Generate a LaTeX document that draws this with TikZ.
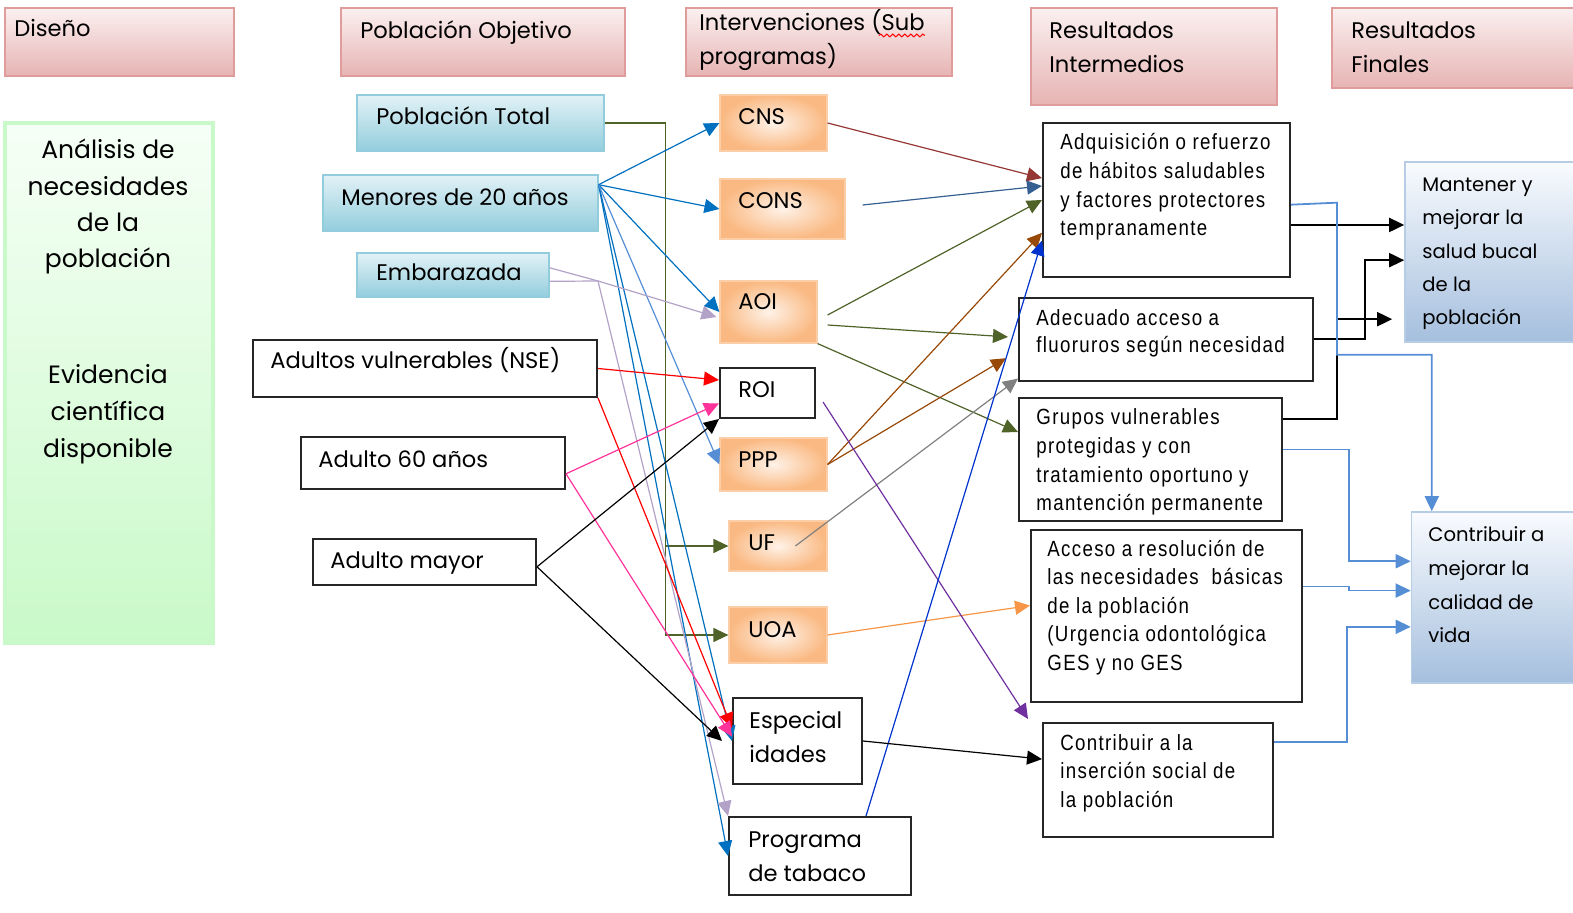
\documentclass[tikz,border=0pt]{standalone}
\usepackage{fontspec}
\setmainfont{Poppins}
\newfontfamily\narrowfont{Liberation Sans}[FakeStretch=0.85,LetterSpace=6]
\usetikzlibrary{arrows.meta,calc,positioning,decorations.pathmorphing}

\definecolor{hdrT}{HTML}{FBF0F0}
\definecolor{hdrF}{HTML}{E6B4B3}
\definecolor{hdrB}{HTML}{E09C9B}
\definecolor{popT}{HTML}{E2F2F6}
\definecolor{popF}{HTML}{93CDDD}
\definecolor{orgT}{HTML}{FEF2E8}
\definecolor{orgF}{HTML}{FAB982}
\definecolor{grnT}{HTML}{F6FFF6}
\definecolor{grnF}{HTML}{C9F9C9}
\definecolor{finT}{HTML}{F9FBFE}
\definecolor{finF}{HTML}{A5BFDE}
\definecolor{blu}{HTML}{0070C0}
\definecolor{ltblu}{HTML}{558ED5}
\definecolor{lav}{HTML}{B3A2C7}
\definecolor{olv}{HTML}{4F6228}
\definecolor{dkred}{HTML}{953735}
\definecolor{steel}{HTML}{376092}
\definecolor{brn}{HTML}{984807}
\definecolor{orng}{HTML}{F79646}
\definecolor{purp}{HTML}{7030A0}
\definecolor{royal}{HTML}{0033CC}
\definecolor{pnk}{HTML}{FF3399}

\begin{document}
\begin{tikzpicture}[x=0.5pt,y=-0.5pt,>={Triangle[length=7.5pt,width=7pt]},
  hdr/.style={draw=hdrB,line width=0.6pt,top color=hdrT,bottom color=hdrF,inner sep=0pt},
  pop/.style={draw=popF,line width=0.6pt,top color=popT,bottom color=popF,inner sep=0pt},
  intv/.style={draw=orgF!70,line width=0.6pt,inner color=orgT,outer color=orgF,inner sep=0pt},
  wbox/.style={draw=black!85,line width=1pt,fill=white,inner sep=0pt},
  fin/.style={draw=finF!80,line width=0.8pt,top color=finT,bottom color=finF,inner sep=0pt},
  txt/.style={inner sep=0pt,anchor=base west,align=left,font=\fontsize{11.3}{17}\selectfont},
  ntxt/.style={inner sep=0pt,anchor=base west,align=left,font=\narrowfont\fontsize{11}{14.4}\selectfont},
  con/.style={->,line width=0.6pt},
  res/.style={->,line width=0.9pt,ltblu}]
\useasboundingbox (0,0) rectangle (1573,913);

% column headers
\node[hdr,minimum width=114.5pt,minimum height=34pt] (dis) at (119.5,42) {};
\node[hdr,minimum width=142pt,minimum height=34pt] (pob) at (483,42) {};
\node[hdr,minimum width=133pt,minimum height=34pt] (intv) at (819,42) {};
\node[hdr,minimum width=123pt,minimum height=48.5pt] (rint) at (1154,56.5) {};
\node[hdr,minimum width=125pt,minimum height=40pt] (rfin) at (1457,48) {};

\node[draw=grnF,line width=2pt,top color=grnT,bottom color=grnF,minimum width=104pt,minimum height=260pt] (grn) at (109,383) {};

% poblacion objetivo
\node[pop,minimum width=123.5pt,minimum height=28pt] (ptot) at (480.5,123) {};
\node[pop,minimum width=137.5pt,minimum height=28pt] (men) at (460.5,203) {};
\node[pop,minimum width=96pt,minimum height=22pt] (emb) at (453,275) {};
\node[wbox,minimum width=172pt,minimum height=28.5pt] (avul) at (425,368.5) {};
\node[wbox,minimum width=132pt,minimum height=26pt] (a60) at (433,463) {};
\node[wbox,minimum width=111.5pt,minimum height=23pt] (amay) at (424.5,562) {};

% intervenciones
\node[intv,minimum width=53.5pt,minimum height=28pt] (cns) at (773.5,123) {};
\node[intv,minimum width=62.5pt,minimum height=30pt] (cons) at (782.5,209) {};
\node[intv,minimum width=48.5pt,minimum height=31pt] (aoi) at (768.5,312) {};
\node[wbox,minimum width=47.5pt,minimum height=25pt] (roi) at (767.5,393) {};
\node[intv,minimum width=53.5pt,minimum height=26.5pt] (ppp) at (773.5,464.5) {};
\node[intv,minimum width=49pt,minimum height=25pt] (uf) at (778,546) {};
\node[intv,minimum width=49pt,minimum height=28pt] (uoa) at (778,635) {};
\node[wbox,minimum width=64.5pt,minimum height=43pt] (esp) at (797.5,741) {};
\node[wbox,minimum width=91pt,minimum height=39pt] (tab) at (820,856) {};

% resultados
\node[wbox,minimum width=123.5pt,minimum height=77pt] (adq) at (1166.5,200) {};
\node[wbox,minimum width=147pt,minimum height=41.5pt] (flu) at (1166,339.5) {};
\node[wbox,minimum width=131.5pt,minimum height=61.5pt] (gru) at (1150.5,459.5) {};
\node[wbox,minimum width=135.5pt,minimum height=86pt] (acc) at (1166.5,616) {};
\node[wbox,minimum width=115pt,minimum height=57pt] (ins) at (1158,780) {};
\node[fin,minimum width=90pt,minimum height=90pt] (man) at (1495,252) {};
\node[fin,minimum width=87pt,minimum height=85.5pt] (cal) at (1498.5,597.5) {};

% poblacion -> intervenciones
\draw[con,olv] (ptot.east) -- ++(61,0) |- (uoa.west);
\draw[con,olv] (ptot.east) ++(61,0) |- (uf.west);

\coordinate (menS) at ($(men.north east)!0.18!(men.south east)$);
\path[con,blu] (menS) edge (cns.west) edge (cons.west) edge (aoi.west)
  edge (esp.west) edge (tab.west);
\draw[con,ltblu] (menS) -- (ppp.west);

\coordinate (embJ) at (598,281);
\draw[con,lav] ($(emb.north east)!0.34!(emb.south east)$) -- (embJ) -- ($(aoi.west)+(-3,5)$);
\draw[con,lav] ($(emb.north east)!0.64!(emb.south east)$) -- (embJ) -- (tab.north west);

\draw[con,red] (avul.east) -- ($(roi.north west)!0.25!(roi.south west)$);
\draw[con,red] (avul.south east) -- ($(esp.north west)!0.35!(esp.south west)$);
\coordinate (a60S) at ($(a60.north east)!0.7!(a60.south east)$);
\draw[con,pnk] (a60S) -- ($(roi.north west)!0.7!(roi.south west)$);
\draw[con,pnk] (a60S) -- ($(esp.north west)!0.45!(esp.south west)$);
\coordinate (amayS) at ($(amay.north east)!0.6!(amay.south east)$);
\draw[con,black] (amayS) -- (roi.south west);
\draw[con,black] (amayS) -- ($(esp.north west)!0.5!(esp.south west)+(-10,0)$);

% intervenciones -> resultados intermedios
\draw[con,dkred] (cns.east) -- ($(adq.north west)!0.36!(adq.south west)$);
\draw[con,steel] ($(cons.east)+(17,-4)$) -- ($(adq.north west)!0.41!(adq.south west)$);
\draw[con,olv] ($(aoi.east)+(10,3)$) -- ($(adq.north west)!0.5!(adq.south west)$);
\draw[con,olv] ($(aoi.east)+(10,13)$) -- ($(flu.north west)!0.47!(flu.south west)+(-10,0)$);
\draw[con,olv] (aoi.south east) -- ($(gru.north west)!0.28!(gru.south west)$);
\draw[con,brn] (ppp.east) -- ($(adq.north west)!0.71!(adq.south west)$);
\draw[con,brn] (ppp.east) -- ($(flu.north west)!0.72!(flu.south west)+(-12,0)$);
\draw[con,gray] ($(uf.center)!0.35!(uf.east)$) -- ($(flu.north west)!0.96!(flu.south west)$);
\draw[con,orng] (uoa.east) -- ($(acc.north west)!0.44!(acc.south west)$);
\draw[con,purp] ($(roi.east)+(7,9)$) -- ($(ins.north west)+(-14,-3)$);
\draw[con,royal] ($(tab.north west)!0.75!(tab.north east)$) -- ($(adq.north west)!0.76!(adq.south west)$);
\draw[con,black] (esp.east) -- ($(ins.north west)!0.32!(ins.south west)$);

% resultados intermedios -> finales
\coordinate (adqR) at ($(adq.north east)!0.66!(adq.south east)$);
\draw[con,line width=1pt] (adqR) -- (adqR -| man.west);
\draw[con,line width=1pt] (flu.east) -- ++(51,0) |- ($(man.north west)!0.545!(man.south west)$);
\draw[con,line width=1pt] ($(gru.north east)!0.18!(gru.south east)$) -- ++(54,0) |- ($(man.north west)!0.87!(man.south west)+(-12,0)$);
\draw[res] ($(adq.north east)!0.53!(adq.south east)$) -- ++(46,-2) -- ++(0,152) -| ($(cal.north west)!0.12!(cal.north east)$);
\draw[res] ($(gru.north east)!0.42!(gru.south east)$) -- ++(66,0) |- ($(cal.north west)!0.29!(cal.south west)$);
\draw[res] ($(acc.north east)!0.33!(acc.south east)$) -- ++(46,0) |- ($(cal.north west)!0.46!(cal.south west)$);
\draw[res] ($(ins.north east)!0.17!(ins.south east)$) -- ++(73,0) |- ($(cal.north west)!0.67!(cal.south west)$);

% textos (multi-line: base = last line)
\node[txt] (dis-t) at (14,37) {Diseño};
\node[txt] (pob-t) at (360,39) {Población Objetivo};
\node[txt] (intv-t) at (699,65) {Intervenciones (Sub\\programas)};
\draw[red,line width=0.5pt,decorate,decoration={snake,amplitude=0.7pt,segment length=3pt}]
  ($(intv-t.north east)+(-46,26)$) -- ($(intv-t.north east)+(0,26)$);
\node[txt] (rint-t) at (1049,73) {Resultados\\Intermedios};
\node[txt] (rfin-t) at (1351,73) {Resultados\\Finales};
\node[inner sep=0pt,anchor=base,align=center,font=\fontsize{12.5}{18.2}\selectfont] (grn-a) at (108,268) {Análisis de\\necesidades\\de la\\población};
\node[inner sep=0pt,anchor=base,align=center,font=\fontsize{12.5}{18.5}\selectfont] (grn-b) at (108,458) {Evidencia\\científica\\disponible};

\node[txt] (ptot-t) at (376,125) {Población Total};
\node[txt] (men-t) at (341,206) {Menores de 20 años};
\node[txt] (emb-t) at (376,281) {Embarazada};
\node[txt] (avul-t) at (270,369) {Adultos vulnerables (NSE)};
\node[txt] (a60-t) at (318,468) {Adulto 60 años};
\node[txt] (amay-t) at (330,569) {Adulto mayor};

\node[txt] (cns-t) at (738,125) {CNS};
\node[txt] (cons-t) at (738,209) {CONS};
\node[txt] (aoi-t) at (738,310) {AOI};
\node[txt] (roi-t) at (738,398) {ROI};
\node[txt] (ppp-t) at (738,468) {PPP};
\node[txt] (uf-t) at (748,551) {UF};
\node[txt] (uoa-t) at (748,638) {UOA};
\node[txt] (esp-t) at (749,762) {Especial\\idades};
\node[txt] (tab-t) at (748,881) {Programa\\de tabaco};

\node[ntxt] (adq-t) at (1060,236) {Adquisición o refuerzo\\de hábitos saludables\\y factores protectores\\tempranamente};
\node[ntxt,font=\narrowfont\fontsize{11}{13.6}\selectfont] (flu-t) at (1036,353) {Adecuado acceso a\\fluoruros según necesidad};
\node[ntxt] (gru-t) at (1036,511) {Grupos vulnerables\\protegidas y con\\tratamiento oportuno y\\mantención permanente};
\node[ntxt,font=\narrowfont\fontsize{11}{14.2}\selectfont] (acc-t) at (1047,670) {Acceso a resolución de\\las necesidades\ \ básicas\\de la población\\(Urgencia odontológica\\GES y no GES};
\node[ntxt,font=\narrowfont\fontsize{11}{14.2}\selectfont] (ins-t) at (1060,807) {Contribuir a la\\inserción social de\\la población};

\node[txt,font=\fontsize{9.8}{16.7}\selectfont] (man-t) at (1422,325) {Mantener y\\mejorar la\\salud bucal\\de la\\población};
\node[txt,font=\fontsize{9.8}{16.9}\selectfont] (cal-t) at (1428,643) {Contribuir a\\mejorar la\\calidad de\\vida};
\end{tikzpicture}
\end{document}
